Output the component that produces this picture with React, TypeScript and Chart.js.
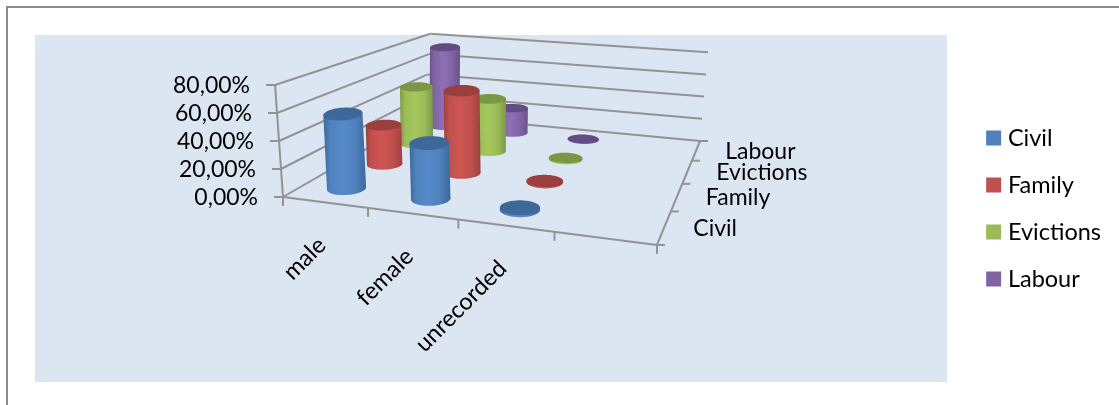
import React, { useEffect, useRef } from "react";
import { Chart, BarController, registerables } from "chart.js";

const categories = ["male", "female", "unrecorded", ""];
const seriesNames = ["Civil", "Family", "Evictions", "Labour"];
const civil = [55, 40, 1.5, null];
const family = [31.5, 64.5, 1, null];
const evictions = [49.5, 44.5, 1, null];
const labour = [74, 22.5, 0.5, null];
const seriesColors = ["#4f81bd", "#c0504d", "#9bbb59", "#8064a2"];
const capColors = ["#3e6899", "#9a3f3d", "#7a9743", "#634b83"];
const edgeColors = ["#3b679c", "#9c413f", "#7c9946", "#6a518b"];
const lightColors = ["#5589c8", "#cf5552", "#a4c85c", "#8e6fb6"];

const AXIS = "#939393";
const FONT = "Lato";

// floor homography of the 3-D box, unit square to page
const H = { a: 297.1, b: 302.7, c: 283, d: 19.3, e: -38.5, f: 197, g: -0.117, h: 0.378 };
const FRONT_HEIGHT = 112;
const RADIUS_C = 0.052;
const RADIUS_D = 0.058;
const CYLINDER_UPRIGHT = 0.05;

function project(c: number, d: number, v: number) {
  const w = H.g * c + H.h * d + 1;
  const x = (H.a * c + H.b * d + H.c) / w;
  const y = (H.d * c + H.e * d + H.f) / w;
  const height = (v * FRONT_HEIGHT) / w;
  const lean =
    -0.071 * (1 - c) * (1 - d) + 0.03 * c * (1 - d) + 0.064 * (1 - c) * d + 0.089 * c * d;
  return { x: x + lean * height, y: y - height };
}

const unitX = (chart: any, i: number) =>
  (chart.scales.x.getPixelForValue(i) - chart.scales.x.left) / chart.scales.x.width;
const unitD = (chart: any, i: number) =>
  (chart.scales.depth.getPixelForValue(i) - chart.scales.depth.left) / chart.scales.depth.width;
const unitV = (chart: any, val: number) =>
  (chart.scales.y.bottom - chart.scales.y.getPixelForValue(val)) / chart.scales.y.height;

function ring(c: number, d: number) {
  const pts = [];
  for (let i = 0; i < 48; i++) {
    const t = (i / 48) * Math.PI * 2;
    pts.push(project(c + RADIUS_C * Math.cos(t), d + RADIUS_D * Math.sin(t), 0));
  }
  return pts;
}

function tracePoly(ctx: CanvasRenderingContext2D, pts: { x: number; y: number }[]) {
  ctx.beginPath();
  pts.forEach((p, i) => (i ? ctx.lineTo(p.x, p.y) : ctx.moveTo(p.x, p.y)));
  ctx.closePath();
}

function drawCylinder(ctx: CanvasRenderingContext2D, c: number, d: number, v: number, idx: number) {
  const bottom = ring(c, d);
  const base = project(c, d, 0);
  const tip = project(c, d, v);
  const rise = base.y - tip.y;
  const shift = tip.x - base.x - CYLINDER_UPRIGHT * d * rise;
  const top = bottom.map((p) => ({ x: p.x + shift, y: p.y - rise }));
  const ext = (pts: { x: number; y: number }[]) => {
    let l = pts[0];
    let r = pts[0];
    pts.forEach((p) => {
      if (p.x < l.x) l = p;
      if (p.x > r.x) r = p;
    });
    return [l, r];
  };
  const [bl, br] = ext(bottom);
  const [tl, tr] = ext(top);
  const x0 = Math.min(bl.x, tl.x);
  const x1 = Math.max(br.x, tr.x);
  const grad = ctx.createLinearGradient(x0, 0, x1, 0);
  grad.addColorStop(0, edgeColors[idx]);
  grad.addColorStop(0.15, seriesColors[idx]);
  grad.addColorStop(0.45, lightColors[idx]);
  grad.addColorStop(0.75, seriesColors[idx]);
  grad.addColorStop(1, edgeColors[idx]);
  ctx.fillStyle = grad;
  tracePoly(ctx, bottom);
  ctx.fill();
  ctx.beginPath();
  ctx.moveTo(bl.x, bl.y);
  ctx.lineTo(tl.x, tl.y);
  ctx.lineTo(tr.x, tr.y);
  ctx.lineTo(br.x, br.y);
  ctx.closePath();
  ctx.fill();
  ctx.fillStyle = capColors[idx];
  tracePoly(ctx, top);
  ctx.fill();
}

class CylinderController extends BarController {
  static id = "cylinder";
  static defaults = BarController.defaults;
  static overrides = BarController.overrides;
  draw() {
    const chart: any = this.chart;
    const ctx = chart.ctx;
    const meta: any = this.getMeta();
    const d = unitD(chart, this.index);
    ctx.save();
    meta.data.forEach((_: any, i: number) => {
      const val = (this.getParsed(i) as any)?.y;
      if (val === null || val === undefined || Number.isNaN(val)) return;
      drawCylinder(ctx, unitX(chart, i), d, unitV(chart, val), this.index);
    });
    ctx.restore();
  }
}

Chart.register(...registerables, CylinderController as any);

const box3d = {
  id: "box3d",
  beforeDraw(chart: any) {
    const ctx: CanvasRenderingContext2D = chart.ctx;
    ctx.save();
    ctx.fillStyle = "#dce6f2";
    ctx.fillRect(35, 35, 912, 347);
    ctx.fillStyle = "#8c8c8c";
    ctx.fillRect(6, 6, 1113, 2);
    ctx.fillRect(6, 6, 2, 399);
    ctx.restore();
  },
  beforeDatasetsDraw(chart: any) {
    const ctx: CanvasRenderingContext2D = chart.ctx;
    const { y } = chart.scales;
    const line = (a: any, b: any) => {
      ctx.beginPath();
      ctx.moveTo(a.x, a.y);
      ctx.lineTo(b.x, b.y);
      ctx.stroke();
    };
    ctx.save();
    ctx.strokeStyle = AXIS;
    ctx.lineWidth = 2;
    // gridlines on both walls and value labels
    ctx.font = `23px ${FONT}`;
    ctx.fillStyle = "#000";
    ctx.textAlign = "right";
    ctx.textBaseline = "middle";
    y.ticks.forEach((tick: any) => {
      const v = unitV(chart, tick.value);
      const a = project(0, 0, v);
      const b = project(0, 1, v);
      const e = project(1, 1, v);
      line(a, b);
      line(b, e);
      line({ x: a.x - 9, y: a.y }, a);
      ctx.fillText(tick.label, a.x - 25, a.y + 1);
    });
    line(project(0, 0, 0), project(0, 0, 1));
    // front edge with ticks and rotated category labels
    line(project(0, 0, 0), project(1, 0, 0));
    line(project(1, 0, 0), project(1, 1, 0));
    const n = categories.length;
    for (let i = 0; i <= n; i++) {
      const p = project(i / n, 0, 0);
      line(p, { x: p.x, y: p.y + 9 });
    }
    ctx.font = `23.5px ${FONT}`;
    categories.forEach((label, i) => {
      if (!label) return;
      const p = project(unitX(chart, i), 0, 0);
      ctx.save();
      ctx.translate(p.x - 3, p.y + 39);
      ctx.rotate(-Math.PI / 4);
      ctx.textAlign = "right";
      ctx.textBaseline = "middle";
      ctx.fillText(label, 0, 0);
      ctx.restore();
    });
    // depth edge with ticks and series labels
    const m = seriesNames.length;
    for (let i = 0; i <= m; i++) {
      const p = project(1, i / m, 0);
      line(p, { x: p.x + 8, y: p.y });
    }
    ctx.font = `23px ${FONT}`;
    ctx.textAlign = "left";
    seriesNames.forEach((label, i) => {
      const p = project(1, unitD(chart, i), 0);
      ctx.fillText(label, p.x + 29, p.y + 1);
    });
    ctx.restore();
  },
};

export default function App() {
  const ref = useRef<HTMLCanvasElement>(null);
  useEffect(() => {
    const chart = new Chart(ref.current as HTMLCanvasElement, {
      type: "cylinder" as any,
      data: {
        labels: categories,
        datasets: [civil, family, evictions, labour].map((data, i) => ({
          label: seriesNames[i],
          data,
          backgroundColor: seriesColors[i],
          borderWidth: 0,
        })),
      },
      options: {
        animation: false,
        responsive: false,
        devicePixelRatio: 1,
        layout: { padding: { top: 12, bottom: 0, left: 0, right: 8 } },
        plugins: {
          tooltip: { enabled: false },
          legend: {
            position: "right",
            labels: {
              usePointStyle: true,
              pointStyle: "rect",
              boxWidth: 5,
              boxHeight: 15,
              padding: 23.5,
              color: "#000",
              font: { family: FONT, size: 23.5 },
            },
          },
        },
        scales: {
          x: { type: "category", offset: true, display: false },
          depth: {
            type: "category",
            axis: "x",
            labels: seriesNames,
            offset: true,
            display: false,
          },
          y: {
            type: "linear",
            min: 0,
            max: 80,
            display: false,
            ticks: {
              stepSize: 20,
              callback: (value: any) => `${Number(value).toFixed(2).replace(".", ",")}%`,
            },
          },
        },
      } as any,
      plugins: [box3d],
    });
    return () => chart.destroy();
  }, []);
  return (
    <canvas
      ref={ref}
      width={1119}
      height={405}
      style={{ position: "absolute", left: 0, top: 0, width: 1119, height: 405, display: "block" }}
    />
  );
}
